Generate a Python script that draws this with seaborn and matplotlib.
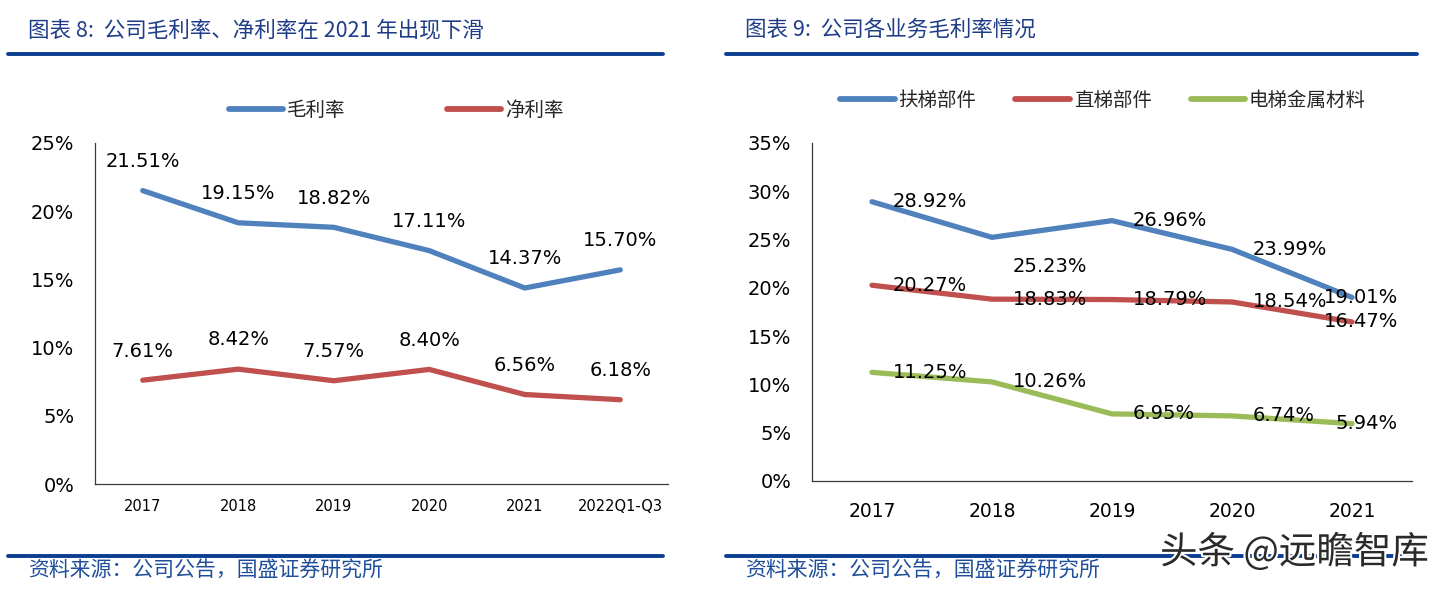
import numpy as np
import pandas as pd
import matplotlib
matplotlib.use("Agg")
import matplotlib.pyplot as plt
import matplotlib.patheffects as pe
from matplotlib.lines import Line2D
from matplotlib.ticker import FuncFormatter, FixedLocator
import seaborn as sns

# --------------------------
# Data
# --------------------------
years_left = ["2017", "2018", "2019", "2020", "2021", "2022Q1-Q3"]
gross_margin = [21.51, 19.15, 18.82, 17.11, 14.37, 15.70]
net_margin = [7.61, 8.42, 7.57, 8.40, 6.56, 6.18]
left_series = ["毛利率", "净利率"]

years_right = ["2017", "2018", "2019", "2020", "2021"]
escalator_parts = [28.92, 25.23, 26.96, 23.99, 19.01]
elevator_parts = [20.27, 18.83, 18.79, 18.54, 16.47]
metal_materials = [11.25, 10.26, 6.95, 6.74, 5.94]
right_series = ["扶梯部件", "直梯部件", "电梯金属材料"]

title_left = "图表 8:  公司毛利率、净利率在 2021 年出现下滑"
title_right = "图表 9:  公司各业务毛利率情况"
source_text = "资料来源：公司公告，国盛证券研究所"
watermark = "头条 @远瞻智库"

BLUE, RED, GREEN = "#4F81BD", "#C0504D", "#9BBB59"
NAVY = "#0B3D91"

sns.set_theme(style="white")
plt.rcParams["font.family"] = ["DejaVu Sans", "Noto Sans CJK SC"]
plt.rcParams["axes.unicode_minus"] = False

W, H = 1447, 596
fig = plt.figure(figsize=(W / 100, H / 100), dpi=100)
fig.patch.set_facecolor("white")


def px(x, y):
    return x / W, 1 - y / H


def hrule(x0, x1, y, lw):
    a, b = px(x0, y)
    c, _ = px(x1, y)
    fig.add_artist(Line2D([a, c], [b, b], color=NAVY, lw=lw, transform=fig.transFigure))


def style_axes(ax, n, ymax, xfont, xpad):
    ax.set_xlim(-0.5, n - 0.5)
    ax.set_ylim(0, ymax)
    ax.set_facecolor("white")
    for s in ["top", "right"]:
        ax.spines[s].set_visible(False)
    for s in ["left", "bottom"]:
        ax.spines[s].set_color("#3a3a3a")
        ax.spines[s].set_linewidth(0.9)
    ax.yaxis.set_major_locator(FixedLocator(np.arange(0, ymax + 0.1, 5)))
    ax.yaxis.set_major_formatter(FuncFormatter(lambda v, p: f"{v:.0f}%"))
    ax.tick_params(axis="y", direction="in", length=5, width=0.9, color="#3a3a3a",
                   labelsize=14, pad=15, labelcolor="black")
    ax.xaxis.set_major_locator(FixedLocator(np.arange(-0.5, n, 1.0)))
    ax.xaxis.set_major_formatter(FuncFormatter(lambda v, p: ""))
    ax.tick_params(axis="x", which="major", direction="in", length=5, width=0.9, color="#3a3a3a")
    ax.xaxis.set_minor_locator(FixedLocator(np.arange(n)))
    ax.tick_params(axis="x", which="minor", length=0, labelsize=xfont, pad=xpad, labelcolor="black")
    ax.set_xlabel("")
    ax.set_ylabel("")
    ax.grid(False)


# --------------------------
# Left chart
# --------------------------
df_left = pd.DataFrame({
    "pos": list(range(len(years_left))) * 2,
    "value": gross_margin + net_margin,
    "series": [left_series[0]] * len(years_left) + [left_series[1]] * len(years_left),
})

ax1 = fig.add_axes([95 / W, 1 - 484 / H, 573 / W, 341 / H])
sns.lineplot(data=df_left, x="pos", y="value", hue="series", hue_order=left_series,
             palette=[BLUE, RED], linewidth=3.8, sort=False, ax=ax1, legend=True)
for line in ax1.lines:
    line.set_solid_capstyle("round")
style_axes(ax1, len(years_left), 25, 10.5, 11)
ax1.xaxis.set_minor_formatter(FuncFormatter(lambda v, p: years_left[int(round(v))]))

for vals in [gross_margin, net_margin]:
    for i, v in enumerate(vals):
        ax1.annotate(f"{v:.2f}%", (i, v), xytext=(0, 21), textcoords="offset points",
                     ha="center", va="center", fontsize=14, color="black")

sns.move_legend(ax1, loc="center", bbox_to_anchor=px(396, 110), bbox_transform=fig.transFigure,
                ncol=2, title=None, frameon=False, handlelength=2.8,
                handletextpad=0.2, columnspacing=5.2,
                prop={"family": ["Noto Sans CJK SC"], "size": 14})
for h in ax1.get_legend().legend_handles:
    h.set_linewidth(4.2)
    h.set_solid_capstyle("round")

# --------------------------
# Right chart
# --------------------------
df_right = pd.DataFrame({
    "pos": list(range(len(years_right))) * 3,
    "value": escalator_parts + elevator_parts + metal_materials,
    "series": sum([[s] * len(years_right) for s in right_series], []),
})

ax2 = fig.add_axes([812 / W, 1 - 481 / H, 600 / W, 338 / H])
sns.lineplot(data=df_right, x="pos", y="value", hue="series", hue_order=right_series,
             palette=[BLUE, RED, GREEN], linewidth=3.8, sort=False, ax=ax2, legend=True)
for line in ax2.lines:
    line.set_solid_capstyle("round")
style_axes(ax2, len(years_right), 35, 13.5, 15)
ax2.xaxis.set_minor_formatter(FuncFormatter(lambda v, p: years_right[int(round(v))]))

last = len(years_right) - 1
for vals in [escalator_parts, elevator_parts, metal_materials]:
    for i, v in enumerate(vals):
        if i == last:
            off, ha = (33, 0), "right"
        elif vals is escalator_parts and i == 1:
            off, ha = (15, -21), "left"
        else:
            off, ha = (15, 0), "left"
        ax2.annotate(f"{v:.2f}%", (i, v), xytext=off, textcoords="offset points",
                     ha=ha, va="center", fontsize=14, color="black")

sns.move_legend(ax2, loc="center", bbox_to_anchor=px(1103, 100), bbox_transform=fig.transFigure,
                ncol=3, title=None, frameon=False, handlelength=2.8,
                handletextpad=0.2, columnspacing=2.0,
                prop={"family": ["Noto Sans CJK SC"], "size": 14})
for h in ax2.get_legend().legend_handles:
    h.set_linewidth(4.2)
    h.set_solid_capstyle("round")

# --------------------------
# Titles, rules, source notes
# --------------------------
title_kw = dict(color="#1F3C88", fontsize=15.5, va="center", ha="left",
                family=["Noto Sans CJK SC", "DejaVu Sans"])
fig.text(*px(28, 30), title_left, **title_kw)
fig.text(*px(745, 30), title_right, **title_kw)

hrule(8, 663, 54, 2.8)
hrule(726, 1417, 54, 2.8)
hrule(8, 663, 556, 2.8)
hrule(726, 1417, 556, 2.8)

src_kw = dict(color="#1F4E9A", fontsize=15, va="center", ha="left",
              family=["Noto Sans CJK SC", "DejaVu Sans"])
fig.text(*px(28, 571), source_text, **src_kw)
fig.text(*px(745, 571), source_text, **src_kw)

fig.text(*px(1160, 553), watermark, fontsize=27, color="#2a2a2a", va="center", ha="left",
         family=["Noto Sans CJK SC", "DejaVu Sans"],
         path_effects=[pe.withStroke(linewidth=3, foreground="white")])

fig.savefig("out.png", dpi=100, facecolor="white")
